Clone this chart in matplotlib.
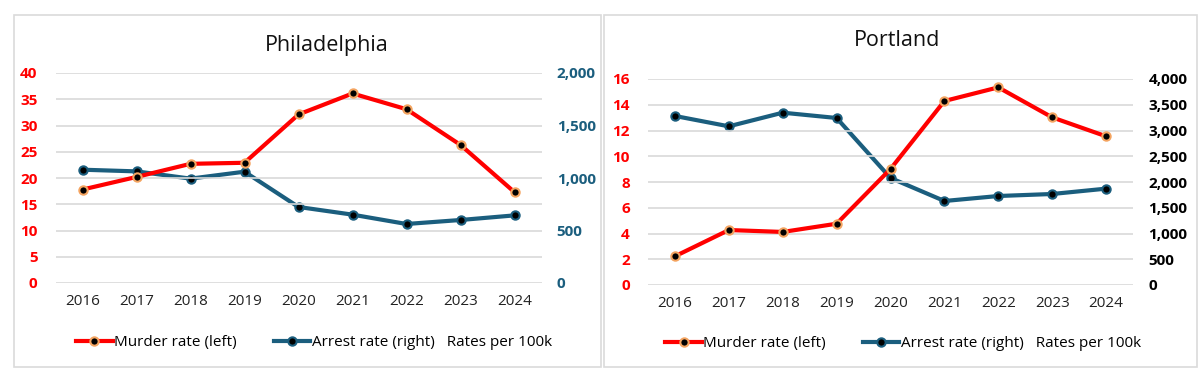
import matplotlib
matplotlib.use("Agg")
import matplotlib.pyplot as plt
from matplotlib.lines import Line2D
from matplotlib.patches import Rectangle
from matplotlib.ticker import FuncFormatter

plt.rcParams['font.family'] = ['Open Sans', 'DejaVu Sans']

years = ["2016", "2017", "2018", "2019", "2020", "2021", "2022", "2023", "2024"]

phl_murder = [17.8, 20.2, 22.7, 22.9, 32.1, 36.1, 33.1, 26.3, 17.3]
phl_arrest = [1079, 1063, 994, 1060, 724, 651, 562, 600, 644]

pdx_murder = [2.23, 4.27, 4.12, 4.76, 9.01, 14.29, 15.35, 13.02, 11.55]
pdx_arrest = [3282, 3081, 3346, 3243, 2078, 1631, 1728, 1767, 1871]

RED = "#FF0000"
BLUE = "#1B5E7E"
ORANGE = "#F4A460"
GRID = "#D9D9D9"

W, H = 1200, 384
fig = plt.figure(figsize=(12, 3.84), dpi=100)

def fx(px):
    return px / W

def fy(py):
    return 1 - py / H

# panel borders
for (x0, x1) in [(14, 601), (604, 1197)]:
    fig.add_artist(Rectangle((fx(x0), fy(367)), fx(x1 - x0), (367 - 15) / H,
                             transform=fig.transFigure, fill=False,
                             edgecolor="#DADADA", linewidth=1.2))

def panel(rect, murder, arrest, ymax_l, step_l, ymax_r, step_r, rcolor, title, title_y, title_x, leg_x):
    ax = fig.add_axes(rect)
    ax2 = ax.twinx()
    x = list(range(len(years)))
    ax.set_xlim(-0.5, len(years) - 0.5)
    ax.set_ylim(0, ymax_l)
    ax2.set_ylim(0, ymax_r)
    ax.set_yticks([i * step_l for i in range(int(ymax_l / step_l) + 1)])
    ax2.set_yticks([i * step_r for i in range(int(ymax_r / step_r) + 1)])
    ax2.yaxis.set_major_formatter(FuncFormatter(lambda v, p: f"{int(v):,}"))
    ax.grid(axis='y', color=GRID, linewidth=1.2)
    ax.set_axisbelow(True)
    for a in (ax, ax2):
        for s in a.spines.values():
            s.set_visible(False)
    ax.tick_params(axis='y', length=0, labelcolor=RED, labelsize=11, pad=13)
    ax2.tick_params(axis='y', length=0, labelcolor=rcolor, labelsize=11, pad=11)
    for lab in ax.get_yticklabels() + ax2.get_yticklabels():
        lab.set_fontweight('bold')
    ax.set_xticks(x)
    ax.set_xticklabels(years)
    ax.tick_params(axis='x', length=0, labelsize=11, labelcolor="#222222", pad=8)
    ax2.plot(x, arrest, color=BLUE, linewidth=3, marker='o', markersize=6,
             markerfacecolor='black', markeredgecolor=BLUE, markeredgewidth=1.5, zorder=3)
    ax.plot(x, murder, color=RED, linewidth=3, marker='o', markersize=6,
            markerfacecolor='black', markeredgecolor=ORANGE, markeredgewidth=1.5, zorder=4)
    ax.set_zorder(ax2.get_zorder() + 1)
    ax.patch.set_visible(False)
    fig.text(fx(title_x), fy(title_y), title, ha='center', va='center', fontsize=15.5, color="#111111")
    handles = [
        Line2D([], [], color=RED, linewidth=3, marker='o', markersize=6,
               markerfacecolor='black', markeredgecolor=ORANGE, markeredgewidth=1.5),
        Line2D([], [], color=BLUE, linewidth=3, marker='o', markersize=6,
               markerfacecolor='black', markeredgecolor=BLUE, markeredgewidth=1.5),
    ]
    labels = ["Murder rate (left)", "Arrest rate (right)   Rates per 100k"]
    ax.legend(handles, labels, loc='center', bbox_to_anchor=(leg_x, -0.285),
              ncol=2, frameon=False, fontsize=11, handlelength=2.4,
              handletextpad=0.1, columnspacing=2.4)
    return ax, ax2

panel([fx(55.5), fy(283), fx(541.5 - 55.5), (283 - 73) / H], phl_murder, phl_arrest,
      40, 5, 2000, 500, BLUE, "Philadelphia", 45, 327, 0.532)
panel([fx(648), fy(285), fx(1133 - 648), (285 - 79) / H], pdx_murder, pdx_arrest,
      16, 2, 4000, 500, "black", "Portland", 40, 897, 0.526)

fig.savefig("out.png", dpi=100)
